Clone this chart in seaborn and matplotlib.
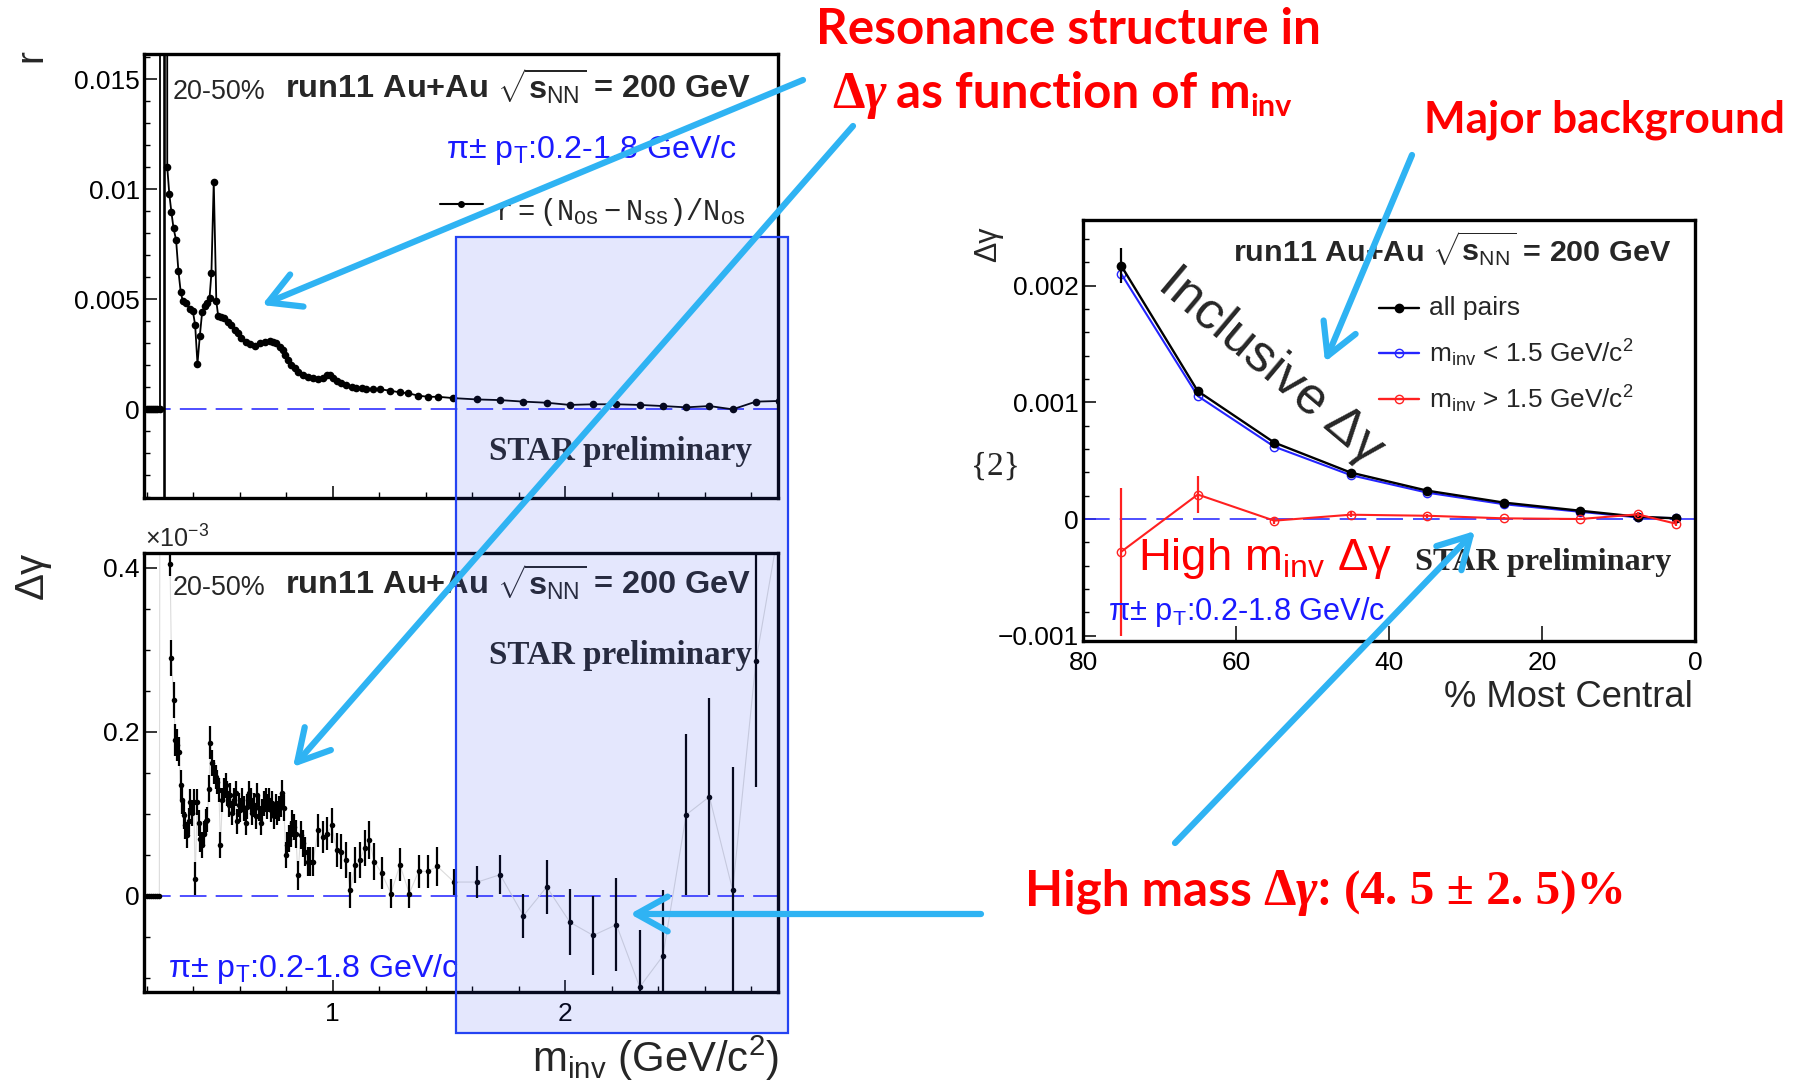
import matplotlib
matplotlib.use("Agg")
import matplotlib.pyplot as plt
import matplotlib.ticker as mt
from matplotlib.patches import FancyArrowPatch, Rectangle, ArrowStyle
import seaborn as sns

# ---------------- data ----------------
# Top-left: r = (N_OS - N_SS) / N_OS versus invariant mass (GeV/c^2)
r_mass = [0.200, 0.209, 0.218, 0.227, 0.236, 0.245, 0.2568, 0.2570, 0.2760, 0.2762, 0.2764,
          0.288, 0.297, 0.306, 0.315, 0.326, 0.336, 0.346, 0.355, 0.369, 0.384,
          0.398, 0.408, 0.418, 0.428, 0.438, 0.450, 0.460, 0.470, 0.478, 0.488,
          0.499, 0.507, 0.520, 0.534, 0.549, 0.563, 0.578, 0.592, 0.606, 0.625,
          0.642, 0.664, 0.685, 0.707, 0.728, 0.743, 0.757, 0.772, 0.786, 0.793,
          0.807, 0.822, 0.836, 0.850, 0.872, 0.894, 0.915, 0.937, 0.956, 0.973,
          0.990, 1.001, 1.016, 1.037, 1.059, 1.081, 1.102, 1.124, 1.145, 1.174,
          1.203, 1.246, 1.289, 1.325, 1.368, 1.411, 1.454, 1.519, 1.619, 1.720,
          1.820, 1.920, 2.020, 2.120, 2.220, 2.320, 2.420, 2.520, 2.620, 2.720,
          2.820, 2.920]
r_value = [0, 0, 0, 0, 0, 0, 0, 0.5, 0.5, -0.5, 0.5,
           0.0110, 0.00977, 0.00895, 0.00823, 0.0077, 0.00629, 0.00533, 0.00492, 0.00482, 0.00456,
           0.00447, 0.00383, 0.00206, 0.00333, 0.00441, 0.00469, 0.00485, 0.00507, 0.0062, 0.01035,
           0.00492, 0.00425, 0.00421, 0.00414, 0.00398, 0.00383, 0.0036, 0.00345, 0.00323, 0.00307,
           0.00297, 0.00288, 0.0030, 0.00307, 0.0031, 0.00307, 0.0030, 0.00285, 0.0027, 0.00247,
           0.00224, 0.00201, 0.00186, 0.00171, 0.00156, 0.00145, 0.00141, 0.00136, 0.00144, 0.00156,
           0.00156, 0.00144, 0.00129, 0.00118, 0.0011, 0.00103, 0.00098, 0.00095, 0.00092, 0.00091,
           0.00091, 0.00085, 0.00077, 0.00073, 0.00062, 0.00057, 0.00057, 0.00051, 0.00045, 0.00042,
           0.00035, 0.0003, 0.0002, 0.00023, 0.00023, 0.0002, 0.00015, 0.00009, 0.00015, 0.0,
           0.00035, 0.00038]

# Bottom-left: delta-gamma (x 10^-3) versus invariant mass
dg_mass = [0.200, 0.209, 0.218, 0.227, 0.236, 0.245, 0.254, 0.276,
           0.300, 0.306, 0.316, 0.323, 0.331, 0.338, 0.345, 0.352, 0.359, 0.366,
           0.374, 0.381, 0.388, 0.395, 0.402, 0.408, 0.417, 0.424, 0.431, 0.438,
           0.445, 0.453, 0.460, 0.467, 0.474, 0.481, 0.488, 0.496, 0.503, 0.510,
           0.517, 0.525, 0.532, 0.539, 0.546, 0.553, 0.560, 0.568, 0.575, 0.582,
           0.589, 0.596, 0.603, 0.611, 0.618, 0.625, 0.632, 0.639, 0.647, 0.654,
           0.661, 0.668, 0.675, 0.682, 0.690, 0.697, 0.704, 0.711, 0.718, 0.725,
           0.733, 0.740, 0.747, 0.754, 0.762, 0.769, 0.776, 0.783, 0.790, 0.797,
           0.805, 0.812, 0.819, 0.826, 0.833, 0.841, 0.850, 0.862, 0.872, 0.882,
           0.894, 0.904, 0.915, 0.937, 0.956, 0.976, 0.996, 1.016, 1.036, 1.056,
           1.076, 1.096, 1.116, 1.137, 1.157, 1.178, 1.210, 1.250, 1.289, 1.329,
           1.369, 1.410, 1.450, 1.522, 1.622, 1.720, 1.820, 1.920, 2.020, 2.120,
           2.220, 2.320, 2.420, 2.520, 2.620, 2.720, 2.820, 2.920]
dg_value = [0, 0, 0, 0, 0, 0, 0, 5.0,
            0.404, 0.290, 0.239, 0.190, 0.184, 0.176, 0.135, 0.117, 0.099, 0.086,
            0.074, 0.091, 0.115, 0.101, 0.115, 0.021, 0.115, 0.089, 0.070, 0.062,
            0.076, 0.091, 0.093, 0.131, 0.187, 0.162, 0.151, 0.145, 0.139, 0.129,
            0.062, 0.117, 0.129, 0.135, 0.125, 0.111, 0.123, 0.101, 0.117, 0.125,
            0.091, 0.111, 0.105, 0.117, 0.107, 0.089, 0.109, 0.125, 0.117, 0.101,
            0.111, 0.097, 0.123, 0.107, 0.089, 0.103, 0.113, 0.117, 0.109, 0.117,
            0.105, 0.113, 0.097, 0.109, 0.101, 0.107, 0.111, 0.125, 0.107, 0.050,
            0.062, 0.070, 0.076, 0.089, 0.084, 0.076, 0.025, 0.074, 0.064, 0.054,
            0.042, 0.042, 0.042, 0.080, 0.072, 0.076, 0.086, 0.056, 0.054, 0.044,
            0.007, 0.038, 0.044, 0.058, 0.068, 0.042, 0.028, 0.003, 0.038, 0.003,
            0.030, 0.030, 0.036, 0.017, 0.017, 0.026, -0.024, 0.011, -0.032, -0.048,
            -0.035, -0.111, -0.073, 0.099, 0.121, 0.007, 0.286, 0.450]
dg_error = [0, 0, 0, 0, 0, 0, 0, 0,
            0.014, 0.022, 0.022, 0.020, 0.020, 0.018, 0.018, 0.017, 0.017, 0.016,
            0.016, 0.016, 0.016, 0.016, 0.016, 0.020, 0.016, 0.016, 0.016, 0.016,
            0.015, 0.015, 0.015, 0.016, 0.020, 0.016, 0.015, 0.015, 0.015, 0.015,
            0.016, 0.015, 0.015, 0.015, 0.015, 0.015, 0.015, 0.015, 0.015, 0.015,
            0.015, 0.015, 0.015, 0.015, 0.015, 0.015, 0.015, 0.015, 0.015, 0.015,
            0.015, 0.015, 0.015, 0.015, 0.015, 0.015, 0.015, 0.015, 0.015, 0.015,
            0.015, 0.015, 0.015, 0.015, 0.015, 0.015, 0.015, 0.016, 0.016, 0.016,
            0.016, 0.016, 0.016, 0.016, 0.016, 0.017, 0.018, 0.017, 0.017, 0.018,
            0.018, 0.018, 0.018, 0.020, 0.020, 0.020, 0.021, 0.021, 0.021, 0.022,
            0.022, 0.022, 0.022, 0.022, 0.023, 0.023, 0.020, 0.018, 0.020, 0.018,
            0.020, 0.020, 0.024, 0.016, 0.020, 0.024, 0.027, 0.033, 0.040, 0.048,
            0.057, 0.070, 0.080, 0.098, 0.120, 0.150, 0.153, 0]

# Right: delta-gamma versus centrality
centrality = [75, 65, 55, 45, 35, 25, 15, 7.5, 2.5]
dg_all = [0.00217, 0.001096, 0.000655, 0.000398, 0.000243, 0.000141, 0.000071, 0.000020, 0.000006]
dg_all_err = [0.00015, 0.00003, 0.00002, 0.000015, 0.00001, 0.00001, 0.00001, 0.00001, 0.00001]
dg_low = [0.00210, 0.001054, 0.000620, 0.000376, 0.000226, 0.000127, 0.000062, 0.000014, 0.000008]
dg_high = [-0.00028, 0.00021, -0.000014, 0.000037, 0.000028, 0.000006, 0.0, 0.000040, -0.000040]
dg_high_err_lo = [0.00072, 0.000155, 0.00003, 0.00002, 0.000015, 0.00001, 0.00001, 0.00002, 0.00002]
dg_high_err_hi = [0.00055, 0.000155, 0.00003, 0.00002, 0.000015, 0.00001, 0.00001, 0.00002, 0.00002]

r_ticks = [0, 0.005, 0.01, 0.015]
r_ticklabels = ["0", "0.005", "0.01", "0.015"]
dg_ticks = [0, 0.2, 0.4]
dg_ticklabels = ["0", "0.2", "0.4"]
mass_ticks = [1, 2]
mass_ticklabels = ["1", "2"]
cent_yticks = [-0.001, 0, 0.001, 0.002]
cent_yticklabels = ["\u22120.001", "0", "0.001", "0.002"]
cent_xticks = [0, 20, 40, 60, 80]
cent_xticklabels = ["0", "20", "40", "60", "80"]

# ---------------- style ----------------
W, H = 1803, 1083
sns.set_theme(style="white")
plt.rcParams["font.family"] = ["Liberation Sans", "DejaVu Sans"]
plt.rcParams["mathtext.fontset"] = "custom"
plt.rcParams["mathtext.rm"] = "Liberation Sans"
plt.rcParams["mathtext.it"] = "Liberation Sans:italic"
plt.rcParams["mathtext.bf"] = "Liberation Sans:bold"
plt.rcParams["mathtext.tt"] = "Liberation Mono"

BLUE_TXT = "#1a1aff"
ZERO_BLUE = "#3030ff"
RED = "#fe0000"
ARROW = "#2fb3f3"
CAL = ["Lato", "DejaVu Sans"]
SER = ["Liberation Serif", "DejaVu Serif"]

fig = plt.figure(figsize=(W / 100, H / 100), dpi=100)
renderer = fig.canvas.get_renderer()


def panel(left, top, right, bottom):
    return fig.add_axes([left / W, 1 - bottom / H, (right - left) / W, (bottom - top) / H])


def frame(ax):
    ax.set_facecolor("white")
    for sp in ax.spines.values():
        sp.set_visible(True)
        sp.set_color("black")
        sp.set_linewidth(2.4)
    ax.tick_params(which="both", direction="in", colors="black", labelsize=19,
                   top=False, right=False, left=True, bottom=True)
    ax.tick_params(which="major", length=9, width=1.1)
    ax.tick_params(which="minor", length=4.5, width=1.0)
    ax.tick_params(axis="y", pad=3)
    ax.tick_params(axis="x", pad=7)
    ax.set_xlabel("")
    ax.set_ylabel("")
    ax.grid(False)


ax_r = panel(144, 54, 778, 498)
ax_g = panel(144, 553, 778, 992)
ax_c = panel(1083, 220, 1695, 641)

# ---- top-left: r vs m_inv
ax_r.axhline(0, color=ZERO_BLUE, lw=1.2, ls=(0, (16, 5.5)), zorder=1)
sns.lineplot(x=r_mass, y=r_value, ax=ax_r, color="black", lw=1.3, marker="o",
             markersize=5.5, mew=0, estimator=None, sort=False, zorder=3)
frame(ax_r)
ax_r.set_xlim(0.188, 2.915)
ax_r.set_ylim(-0.00403, 0.01615)
ax_r.xaxis.set_major_locator(mt.FixedLocator(mass_ticks))
ax_r.xaxis.set_minor_locator(mt.MultipleLocator(0.2))
ax_r.tick_params(axis="x", labelbottom=False)
ax_r.yaxis.set_major_locator(mt.FixedLocator(r_ticks))
ax_r.yaxis.set_major_formatter(mt.FixedFormatter(r_ticklabels))
ax_r.yaxis.set_minor_locator(mt.MultipleLocator(0.001))

# ---- bottom-left: delta-gamma vs m_inv
ax_g.axhline(0, color=ZERO_BLUE, lw=1.2, ls=(0, (16, 5.5)), zorder=1)
sns.lineplot(x=dg_mass, y=dg_value, ax=ax_g, color="#dcdcdc", lw=0.8,
             estimator=None, sort=False, zorder=2)
ax_g.errorbar(dg_mass, dg_value, yerr=dg_error, fmt="none", ecolor="black",
              elinewidth=1.6, capsize=0, zorder=3)
sns.scatterplot(x=dg_mass, y=dg_value, ax=ax_g, color="black", s=16, linewidth=0, zorder=4)
frame(ax_g)
ax_g.set_xlim(0.188, 2.915)
ax_g.set_ylim(-0.117, 0.418)
ax_g.xaxis.set_major_locator(mt.FixedLocator(mass_ticks))
ax_g.xaxis.set_major_formatter(mt.FixedFormatter(mass_ticklabels))
ax_g.xaxis.set_minor_locator(mt.MultipleLocator(0.2))
ax_g.yaxis.set_major_locator(mt.FixedLocator(dg_ticks))
ax_g.yaxis.set_major_formatter(mt.FixedFormatter(dg_ticklabels))
ax_g.yaxis.set_minor_locator(mt.MultipleLocator(0.05))

# ---- right: delta-gamma vs centrality
ax_c.axhline(0, color=ZERO_BLUE, lw=1.2, ls=(0, (16, 6)), zorder=1)
sns.lineplot(x=centrality, y=dg_low, ax=ax_c, color="#2424ff", lw=1.5, marker="o",
             markersize=6, mfc="none", mec="#2424ff", mew=1.0, estimator=None, sort=False, zorder=2)
sns.lineplot(x=centrality, y=dg_all, ax=ax_c, color="black", lw=1.7, marker="o",
             markersize=7, mec="black", mew=0, estimator=None, sort=False, zorder=3)
ax_c.errorbar(centrality, dg_all, yerr=dg_all_err, fmt="none", ecolor="black",
              elinewidth=1.6, capsize=0, zorder=3)
sns.lineplot(x=centrality, y=dg_high, ax=ax_c, color="#ff2020", lw=1.5, marker="o",
             markersize=6, mfc="none", mec="#ff2020", mew=1.0, estimator=None, sort=False, zorder=4)
ax_c.errorbar(centrality, dg_high, yerr=[dg_high_err_lo, dg_high_err_hi], fmt="none",
              ecolor="#ff2020", elinewidth=1.6, capsize=0, zorder=4)
frame(ax_c)
ax_c.set_xlim(80, 0)
ax_c.set_ylim(-0.001045, 0.002562)
ax_c.xaxis.set_major_locator(mt.FixedLocator(cent_xticks))
ax_c.xaxis.set_major_formatter(mt.FixedFormatter(cent_xticklabels))
ax_c.yaxis.set_major_locator(mt.FixedLocator(cent_yticks))
ax_c.yaxis.set_major_formatter(mt.FixedFormatter(cent_yticklabels))
ax_c.yaxis.set_minor_locator(mt.MultipleLocator(0.0002))
ax_c.tick_params(axis="x", which="major", length=11)

# ---------------- overlay in figure pixels ----------------
ov = fig.add_axes([0, 0, 1, 1], zorder=5)
ov.set_xlim(0, W)
ov.set_ylim(H, 0)
ov.axis("off")
ov.patch.set_alpha(0)


def fit(x, y, s, width, size=20, rotation=0, **kw):
    t = ov.text(x, y, s, fontsize=size, **kw)
    w = t.get_window_extent(renderer).width
    t.set_fontsize(size * width / w)
    if rotation:
        t.set_rotation(rotation)
    return t


def run(x, y, pieces, zorder=6):
    for p in pieces:
        if isinstance(p, (int, float)):
            x += p
            continue
        s, kw = p[0], p[1]
        dy = p[2] if len(p) > 2 else 0
        t = ov.text(x, y + dy, s, ha="left", va="baseline", zorder=zorder, **kw)
        x += t.get_window_extent(renderer).width
    return x


base = dict(ha="left", va="baseline", zorder=1)
title = r"run11 Au+Au $\sqrt{\mathbf{s}_{\mathrm{NN}}}$ = 200 GeV"
pion = r"π± p$_{\mathrm{T}}$:0.2-1.8 GeV/c"

# top-left panel texts
fit(173, 99, "20-50%", 93, **base)
fit(285, 99, title, 467, weight="bold", **base)
fit(446, 158, pion, 291, color=BLUE_TXT, **base)
ov.plot([440, 483], [204, 204], color="black", lw=1.5, zorder=1)
ov.plot([461], [204], marker="o", ms=5, color="black", mew=0, zorder=1)
fit(495, 220, r"$\mathtt{r=(N_{OS}-N_{SS})/N_{OS}}$", 250, **base)
fit(489, 460, "STAR preliminary", 263, family=SER, weight="bold", **base)
ov.text(31, 56, "r", rotation=90, ha="center", va="center", fontsize=28, zorder=1)

# bottom-left panel texts
fit(145, 548, r"×10$^{-3}$", 64, **base)
fit(173, 595, "20-50%", 93, **base)
fit(285, 595, title, 467, weight="bold", **base)
fit(489, 664, "STAR preliminary", 263, family=SER, weight="bold", **base)
fit(168, 977, pion, 291, color=BLUE_TXT, **base)
ov.text(32, 575, "Δγ", rotation=90, ha="center", va="center", fontsize=29, zorder=1)
fit(779, 1072, r"m$_{\mathrm{inv}}$ (GeV/c$^{2}$)", 248, ha="right", va="baseline", zorder=1)

# right panel texts
fit(1233, 261, title, 438, weight="bold", **base)
legend_rows = [(308, "black", "black", "all pairs", 91),
               (353, "#2424ff", "none", r"m$_{\mathrm{inv}}$ < 1.5 GeV/c$^{2}$", 204),
               (399, "#ff2020", "none", r"m$_{\mathrm{inv}}$ > 1.5 GeV/c$^{2}$", 204)]
for y, c, fc, label, wd in legend_rows:
    ov.plot([1379, 1419], [y, y], color=c, lw=1.7, zorder=1)
    ov.plot([1399], [y], marker="o", ms=6, mfc=fc, mec=c, mew=1.0, zorder=1)
    fit(1429, y, label, wd, ha="left", va="center", zorder=1)
fit(1271, 366, "Inclusive Δγ", 277, rotation=-40, ha="center", va="center",
    rotation_mode="anchor", zorder=1)
fit(1138, 570, r"High m$_{\mathrm{inv}}$ Δγ", 255, color=RED, **base)
fit(1415, 570, "STAR preliminary", 256, family=SER, weight="bold", **base)
fit(1108, 620, pion, 277, color=BLUE_TXT, **base)
ov.text(988, 244, "Δγ", rotation=90, ha="center", va="center", fontsize=22, zorder=1)
ov.text(995, 467, "{2}", ha="center", va="center", fontsize=24, family=SER, zorder=1)
fit(1693, 707, "% Most Central", 248, ha="right", va="baseline", zorder=1)

# highlighted high-mass window
ov.add_patch(Rectangle((456, 237), 332, 796, facecolor=(0.2, 0.3, 0.95, 0.13),
                       edgecolor="#2443f2", lw=1.6, zorder=2))

# arrows
head = ArrowStyle("->", head_length=0.45, head_width=0.25)
for a, b in [((803, 80), (262, 305)), ((853, 126), (293, 767)), ((1412, 155), (1325, 362)),
             ((1175, 843), (1475, 531)), ((981, 914), (630, 914))]:
    ov.add_patch(FancyArrowPatch(a, b, arrowstyle=head, mutation_scale=50, lw=4.5,
                                 color=ARROW, shrinkA=0, shrinkB=0, capstyle="round",
                                 joinstyle="round", zorder=4))

# red annotations
red_kw = dict(family=CAL, weight="bold", color=RED, ha="left", va="baseline", zorder=6)
t1 = fit(816, 44, "Resonance structure in", 504, size=30, **red_kw)
S = t1.get_fontsize()
big = dict(family=CAL, weight="bold", color=RED, fontsize=S)
dlt = dict(family=SER, weight="bold", color=RED, fontsize=S * 1.05)
gam = dict(family=SER, weight="bold", style="italic", color=RED, fontsize=S * 1.05)
run(832, 108, [("Δ", dlt), ("γ", gam), 10, ("as function of m", big),
               ("inv", dict(big, fontsize=S * 0.62), 8)])
fit(1424, 133, "Major background", 360, size=S, **red_kw)
run(1025, 905, [("High mass", big), 11, ("Δ", dlt), ("γ", gam), (":", big), 14,
                ("(4. 5 ± 2. 5)%", dict(family=SER, weight="bold", color=RED, fontsize=S * 1.0))])

fig.savefig("out.png", dpi=100)
